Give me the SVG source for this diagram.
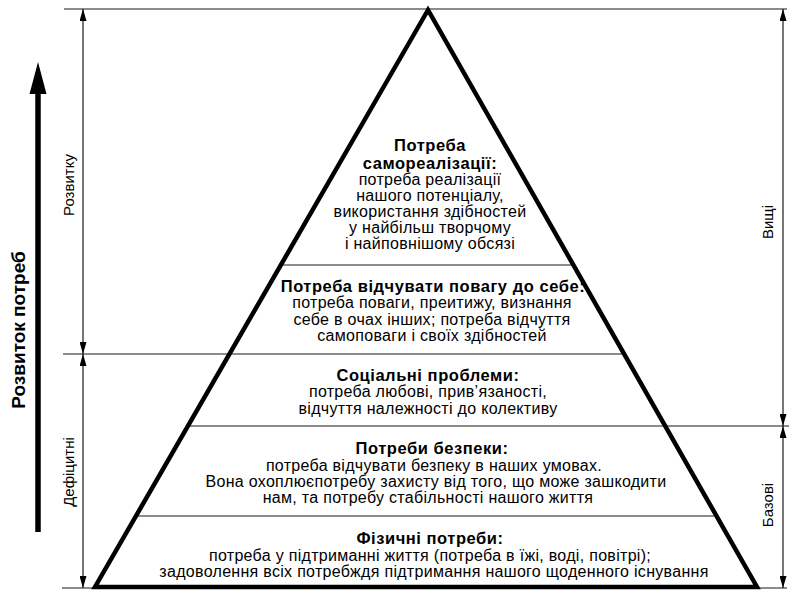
<svg xmlns="http://www.w3.org/2000/svg" width="789" height="590" viewBox="0 0 789 590">
<style>
.t{font-family:"Liberation Sans",Arial,sans-serif;font-size:16px;letter-spacing:0.3px;fill:#000;text-anchor:middle}
.b{font-weight:bold;font-size:16.5px;letter-spacing:0.55px}
.s{font-size:15px;letter-spacing:0}
.thin{stroke:#1a1a1a;stroke-width:1.2;fill:none}
.dim{stroke:#1a1a1a;stroke-width:1.2;fill:none;marker-start:url(#ar);marker-end:url(#ar)}
</style>
<defs>
<marker id="ar" viewBox="0 0 12 7" refX="12" refY="3.5" markerWidth="12" markerHeight="7" markerUnits="userSpaceOnUse" orient="auto-start-reverse">
<path d="M0,0 L12,3.5 L0,7 z" fill="#000"/>
</marker>
</defs>
<rect width="789" height="590" fill="#fff"/>
<g id="connectors">
<line class="thin" x1="64" y1="9" x2="787" y2="9"/>
<line class="thin" x1="281" y1="265" x2="573" y2="265"/>
<line class="thin" x1="63" y1="354" x2="624" y2="354"/>
<line class="thin" x1="188" y1="426" x2="789" y2="426"/>
<line class="thin" x1="136" y1="516" x2="717" y2="516"/>
<line class="thin" x1="62" y1="588" x2="787" y2="588"/>
<line class="dim" x1="83" y1="9" x2="83" y2="354"/>
<line class="dim" x1="83" y1="354" x2="83" y2="588"/>
<line class="dim" x1="783" y1="9" x2="783" y2="426"/>
<line class="dim" x1="783" y1="426" x2="783" y2="588"/>
<line x1="38" y1="90" x2="38" y2="532" stroke="#000" stroke-width="5.5"/>
<polygon points="38,62 29.5,94 46.5,94" fill="#000"/>
</g>
<g id="pyramid">
<polygon points="428,10 95,587 757,587" fill="none" stroke="#000" stroke-width="4.5" stroke-linejoin="miter"/>
</g>
<g id="level5">
<text class="t b" x="430" y="151">Потреба</text>
<text class="t b" x="430" y="169">самореалізації:</text>
<text class="t" x="430" y="185">потреба реалізації</text>
<text class="t" x="430" y="201">нашого потенціалу,</text>
<text class="t" x="430" y="217">використання здібностей</text>
<text class="t" x="430" y="233">у найбільш творчому</text>
<text class="t" x="430" y="249">і найповнішому обсязі</text>
</g>
<g id="level4">
<text class="t b" x="433" y="292">Потреба відчувати повагу до себе:</text>
<text class="t" x="432" y="308">потреба поваги, преитижу, визнання</text>
<text class="t" x="432" y="325">себе в очах інших; потреба відчуття</text>
<text class="t" x="432" y="341">самоповаги і своїх здібностей</text>
</g>
<g id="level3">
<text class="t b" x="428" y="381">Соціальні проблеми:</text>
<text class="t" x="428" y="397">потреба любові, прив’язаності,</text>
<text class="t" x="428" y="414">відчуття належності до колективу</text>
</g>
<g id="level2">
<text class="t b" x="432" y="454">Потреби безпеки:</text>
<text class="t" x="434" y="471">потреба відчувати безпеку в наших умовах.</text>
<text class="t" x="436" y="487">Вона охоплюєпотребу захисту від того, що може зашкодити</text>
<text class="t" x="428" y="503">нам, та потребу стабільності нашого життя</text>
</g>
<g id="level1">
<text class="t b" x="430" y="544">Фізичні потреби:</text>
<text class="t" x="430" y="561">потреба у підтриманні життя (потреба в їжі, воді, повітрі);</text>
<text class="t" x="434" y="577">задоволення всіх потребждя підтримання нашого щоденного існування</text>
</g>
<g id="side-labels">
<text class="t b" style="font-size:19px;letter-spacing:0" transform="translate(25,330) rotate(-90)">Розвиток потреб</text>
<text class="t s" transform="translate(74,185) rotate(-90)">Розвитку</text>
<text class="t s" transform="translate(74,472) rotate(-90)">Дефіцитні</text>
<text class="t s" transform="translate(773,222) rotate(-90)">Вищі</text>
<text class="t s" transform="translate(773,505) rotate(-90)">Базові</text>
</g>
</svg>
